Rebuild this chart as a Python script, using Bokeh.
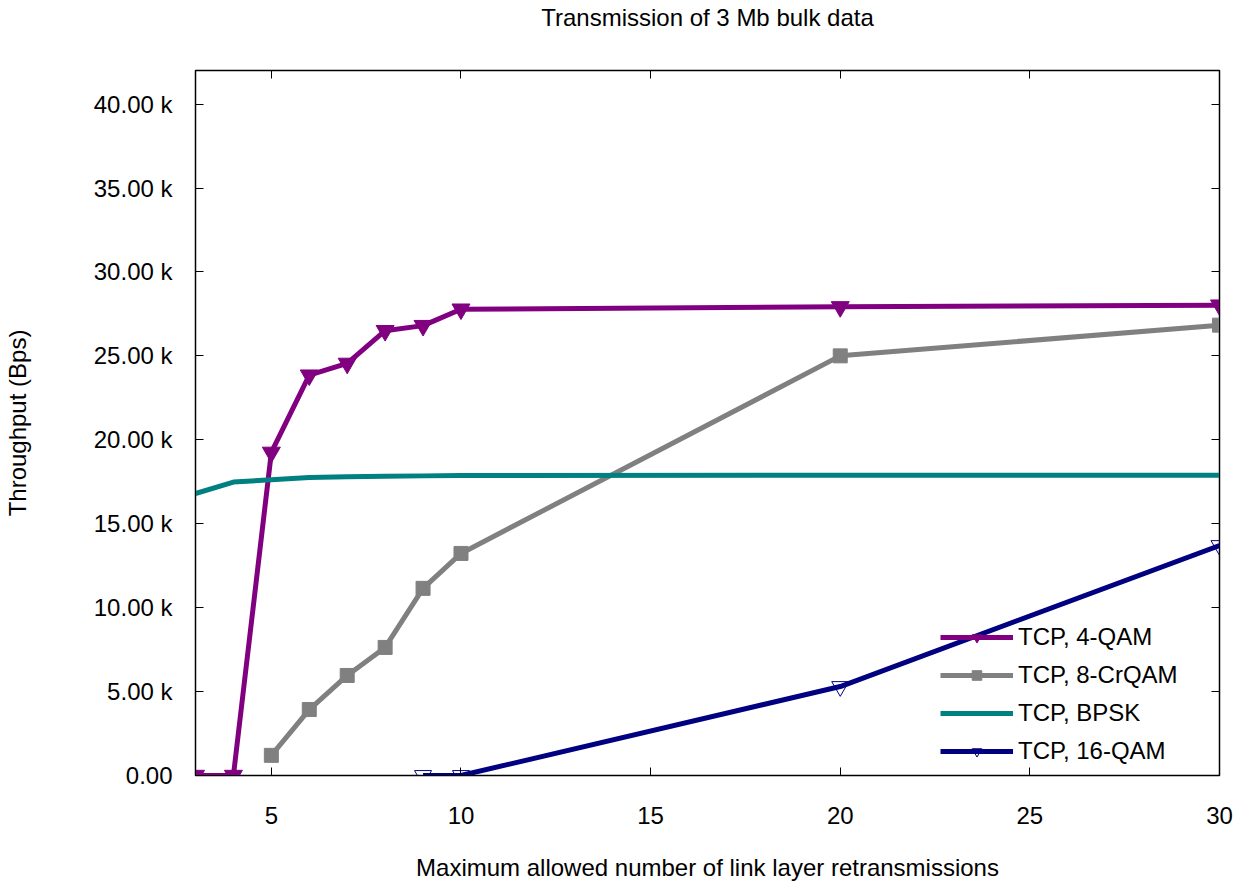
from bokeh.plotting import figure
from bokeh.models import (Range1d, LinearAxis, FixedTicker, Legend, LegendItem,
                          CustomJSTickFormatter)
from bokeh.embed import file_html
from bokeh.resources import INLINE

# ---- data ----
x_4qam = [3, 4, 5, 6, 7, 8, 9, 10, 20, 30]
y_4qam = [0, 0, 19250, 23850, 24550, 26500, 26800, 27780, 27920, 28020]

x_8crqam = [5, 6, 7, 8, 9, 10, 20, 30]
y_8crqam = [1200, 3930, 5960, 7630, 11150, 13230, 25000, 26830]

x_bpsk = [3, 4, 5, 6, 7, 8, 9, 10, 20, 30]
y_bpsk = [16800, 17480, 17620, 17750, 17800, 17830, 17850, 17870, 17890, 17890]

x_16qam = [9, 10, 20, 30]
y_16qam = [0, 0, 5300, 13700]

x_ticks = [5, 10, 15, 20, 25, 30]
y_ticks = [0, 5000, 10000, 15000, 20000, 25000, 30000, 35000, 40000]
y_tick_labels = ["0.00", "5.00 k", "10.00 k", "15.00 k", "20.00 k",
                 "25.00 k", "30.00 k", "35.00 k", "40.00 k"]

TITLE = "Transmission of 3 Mb bulk data"
FONT = "Liberation Sans"
FS = "24px"

p = figure(width=1236, height=883, output_backend="svg", toolbar_location=None,
           x_range=Range1d(3, 30), y_range=Range1d(0, 42000),
           min_border_left=195, min_border_right=17, min_border_top=70,
           min_border_bottom=108)
p.title.visible = False
p.grid.visible = False
p.outline_line_color = "black"
p.outline_line_width = 1.5
p.background_fill_color = "white"
p.border_fill_color = "white"

# main axes
xa = p.xaxis[0]
xa.ticker = FixedTicker(ticks=x_ticks)
xa.axis_label = "Maximum allowed number of link layer retransmissions"
ya = p.yaxis[0]
ya.ticker = FixedTicker(ticks=y_ticks)
ya.major_label_overrides = {float(v): s for v, s in zip(y_ticks, y_tick_labels)}
ya.axis_label = "Throughput (Bps)"

# mirror axes (ticks only); the top one carries the chart title as its label
empty = CustomJSTickFormatter(code="return ''")
top = LinearAxis(ticker=FixedTicker(ticks=x_ticks), formatter=empty,
                 axis_label=TITLE, major_label_text_font_size="1px",
                 major_label_standoff=5)
right = LinearAxis(ticker=FixedTicker(ticks=y_ticks), formatter=empty,
                   major_label_text_font_size="1px")
p.add_layout(top, "above")
p.add_layout(right, "right")

for ax in (xa, ya, top, right):
    ax.major_tick_in = 8
    ax.major_tick_out = 0
    ax.minor_tick_line_color = None
    ax.axis_line_color = "black"
    ax.major_tick_line_color = "black"
    ax.axis_label_text_font = FONT
    ax.axis_label_text_font_size = FS
    ax.axis_label_text_font_style = "normal"
    ax.axis_label_text_color = "black"
for ax in (xa, ya):
    ax.major_label_text_font = FONT
    ax.major_label_text_font_size = FS
    ax.major_label_text_color = "black"
xa.major_label_standoff = 31
xa.axis_label_standoff = 27
ya.major_label_standoff = 23
ya.axis_label_standoff = 60
top.axis_label_standoff = 40

# series
LW = 5
r1l = p.line(x_4qam, y_4qam, line_color="#800080", line_width=LW)
r1m = p.scatter(x_4qam, y_4qam, marker="inverted_triangle", size=18,
                fill_color="#800080", line_color="#800080")

r2l = p.line(x_8crqam, y_8crqam, line_color="#808080", line_width=LW)
r2m = p.scatter(x_8crqam, y_8crqam, marker="square", size=14,
                fill_color="#808080", line_color="#808080")

r3l = p.line(x_bpsk, y_bpsk, line_color="#008080", line_width=LW)

r4l = p.line(x_16qam, y_16qam, line_color="#000080", line_width=LW)
r4m = p.scatter(x_16qam, y_16qam, marker="inverted_triangle", size=17,
                fill_color="white", fill_alpha=0.0, line_color="#000080",
                line_width=1)

legend = Legend(items=[
    LegendItem(label="TCP, 4-QAM", renderers=[r1l, r1m]),
    LegendItem(label="TCP, 8-CrQAM", renderers=[r2l, r2m]),
    LegendItem(label="TCP, BPSK", renderers=[r3l]),
    LegendItem(label="TCP, 16-QAM", renderers=[r4l, r4m]),
], location=(745, 10))
legend.background_fill_alpha = 0
legend.border_line_color = None
legend.label_text_font = FONT
legend.label_text_font_size = FS
legend.label_text_color = "black"
legend.glyph_width = 73
legend.glyph_height = 24
legend.label_height = 24
legend.spacing = 10
legend.margin = 0
legend.padding = 4
p.add_layout(legend)

open("out.html", "w").write(file_html(p, INLINE))
